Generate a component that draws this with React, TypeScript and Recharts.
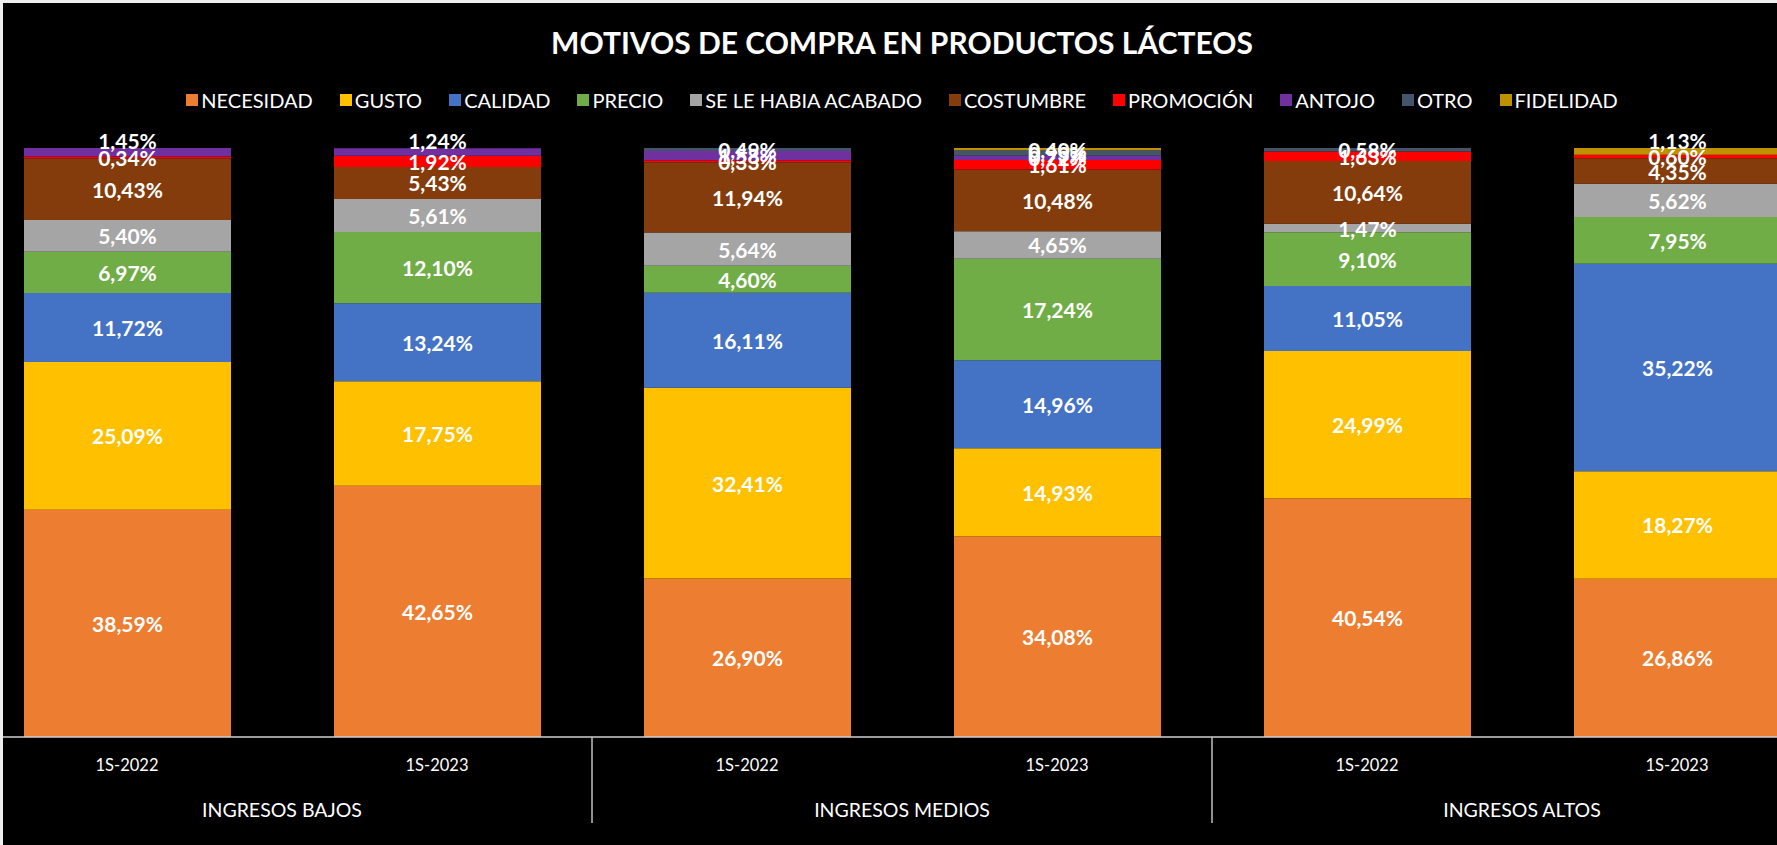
import { BarChart, Bar, XAxis, YAxis, Legend, LabelList } from 'recharts'

const FONT = 'Lato, "Open Sans", sans-serif'

// categorías (dos niveles)
const periods = ['1S-2022', '1S-2023', '1S-2022', '1S-2023', '1S-2022', '1S-2023']
const groups = [
  'INGRESOS BAJOS', 'INGRESOS BAJOS',
  'INGRESOS MEDIOS', 'INGRESOS MEDIOS',
  'INGRESOS ALTOS', 'INGRESOS ALTOS',
]

// valores (%) por motivo
const necesidad = [38.59, 42.65, 26.9, 34.08, 40.54, 26.86]
const gusto = [25.09, 17.75, 32.41, 14.93, 24.99, 18.27]
const calidad = [11.72, 13.24, 16.11, 14.96, 11.05, 35.22]
const precio = [6.97, 12.1, 4.6, 17.24, 9.1, 7.95]
const acabado = [5.4, 5.61, 5.64, 4.65, 1.47, 5.62]
const costumbre = [10.43, 5.43, 11.94, 10.48, 10.64, 4.35]
const promocion = [0.34, 1.92, 0.33, 1.61, 1.63, 0.6]
const antojo = [1.45, 1.24, 1.58, 0.72, 0, 0]
const otro = [0, 0, 0.49, 0.93, 0.58, 0]
const fidelidad = [0, 0, 0, 0.4, 0, 1.13]

const seriesNames = [
  'NECESIDAD', 'GUSTO', 'CALIDAD', 'PRECIO', 'SE LE HABIA ACABADO',
  'COSTUMBRE', 'PROMOCIÓN', 'ANTOJO', 'OTRO', 'FIDELIDAD',
]
const seriesValues = [
  necesidad, gusto, calidad, precio, acabado,
  costumbre, promocion, antojo, otro, fidelidad,
]
const seriesColors = [
  '#ED7D31', '#FFC000', '#4472C4', '#70AD47', '#A5A5A5',
  '#843C0C', '#FF0000', '#7030A0', '#44546A', '#BF9000',
]

const data = periods.map((p, i) => {
  const row: Record<string, string | number> = { period: p, group: groups[i] }
  seriesNames.forEach((name, s) => {
    row[name] = seriesValues[s][i]
  })
  return row
})

const CHART_W = 1860
const CHART_H = 845
const GROUP_W = CHART_W / 3

function fmt(v: number) {
  return v.toFixed(2).replace('.', ',') + '%'
}

// ¿es el último segmento no nulo de la barra?
function isTopSegment(s: number, i: number) {
  for (let k = s + 1; k < seriesValues.length; k++) {
    if (seriesValues[k][i] > 0) return false
  }
  return true
}

function SegmentLabel(props: any) {
  const { x, y, width, height, value, index, series } = props
  if (!value) return null
  let cy = y + height / 2
  // etiqueta del segmento superior muy fino: se coloca encima de la barra
  if (isTopSegment(series, index) && value >= 1 && height < 14) cy = y - 8
  return (
    <text
      x={x + width / 2}
      y={cy}
      fill="#ffffff"
      textAnchor="middle"
      dominantBaseline="central"
      fontFamily={FONT}
      fontWeight={700}
      fontSize={21}
    >
      {fmt(value)}
    </text>
  )
}

function PeriodTick(props: any) {
  const { x, y, payload } = props
  return (
    <text
      x={x}
      y={y + 28}
      fill="#ffffff"
      textAnchor="middle"
      dominantBaseline="central"
      fontFamily={FONT}
      fontSize={16.5}
    >
      {payload.value}
    </text>
  )
}

function GroupTick(props: any) {
  const { x, y, payload } = props
  return (
    <g>
      <line x1={x - GROUP_W / 2} x2={x - GROUP_W / 2} y1={y - 50} y2={y + 36} stroke="#bfbfbf" strokeWidth={1} />
      <line x1={x + GROUP_W / 2} x2={x + GROUP_W / 2} y1={y - 50} y2={y + 36} stroke="#bfbfbf" strokeWidth={1} />
      <text
        x={x}
        y={y + 22}
        fill="#ffffff"
        textAnchor="middle"
        dominantBaseline="central"
        fontFamily={FONT}
        fontSize={19.5}
      >
        {payload.value}
      </text>
    </g>
  )
}

function LegendContent(props: any) {
  const items = [...(props.payload || [])].sort(
    (a: any, b: any) => seriesNames.indexOf(a.value) - seriesNames.indexOf(b.value),
  )
  return (
    <div style={{ display: 'flex', justifyContent: 'center', gap: 27, fontFamily: FONT, fontSize: 20, color: '#ffffff' }}>
      {items.map((item: any) => (
        <div key={item.value} style={{ display: 'flex', alignItems: 'center' }}>
          <span style={{ width: 12, height: 12, background: item.color, marginRight: 3, display: 'inline-block' }} />
          <span>{item.value}</span>
        </div>
      ))}
    </div>
  )
}

export default function App() {
  return (
    <div style={{ position: 'absolute', left: 0, top: 0, width: 1777, height: 845, overflow: 'hidden', background: '#eeeeee' }}>
      <div style={{ position: 'absolute', left: 3, top: 3, right: 0, bottom: 0, background: '#000000', overflow: 'hidden' }}>
        <div
          style={{
            position: 'absolute',
            left: -31,
            top: 20,
            width: CHART_W,
            textAlign: 'center',
            color: '#ffffff',
            fontFamily: FONT,
            fontWeight: 700,
            fontSize: 30,
            lineHeight: '38px',
          }}
        >
          MOTIVOS DE COMPRA EN PRODUCTOS LÁCTEOS
        </div>
        <div style={{ position: 'absolute', left: -31, top: -3 }}>
          <BarChart
            width={CHART_W}
            height={CHART_H}
            data={data}
            margin={{ top: 148, right: 0, bottom: 0, left: 0 }}
          >
            <XAxis
              dataKey="period"
              height={50}
              tickLine={false}
              tickSize={0}
              tickMargin={0}
              axisLine={{ stroke: '#d0d0d0', strokeWidth: 1.5 }}
              tick={<PeriodTick />}
              interval={0}
            />
            <XAxis
              xAxisId="grp"
              dataKey="group"
              allowDuplicatedCategory={false}
              height={58}
              tickLine={false}
              tickSize={0}
              tickMargin={0}
              axisLine={false}
              tick={<GroupTick />}
              interval={0}
            />
            <YAxis hide domain={[0, 100]} />
            <Legend
              layout="horizontal"
              verticalAlign="middle"
              align="center"
              content={<LegendContent />}
              wrapperStyle={{ top: 88, left: 0, width: CHART_W }}
            />
            {seriesNames.map((name, s) => (
              <Bar
                key={name}
                dataKey={name}
                stackId="a"
                fill={seriesColors[s]}
                barSize={207}
                isAnimationActive={false}
              >
                <LabelList dataKey={name} content={<SegmentLabel series={s} />} />
              </Bar>
            ))}
          </BarChart>
        </div>
      </div>
    </div>
  )
}
